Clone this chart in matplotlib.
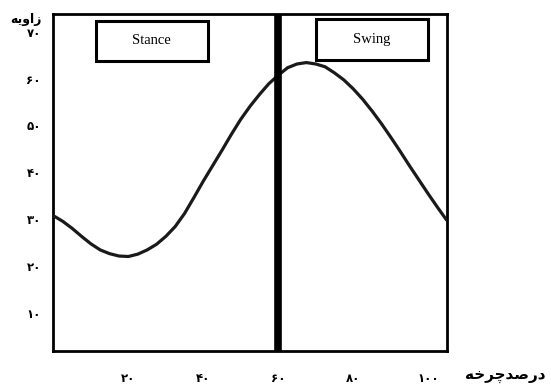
import matplotlib
matplotlib.use("Agg")
import matplotlib.pyplot as plt
from matplotlib.patches import Rectangle

# Gait-cycle joint angle (degrees) versus percent of gait cycle
cycle_pct = [0, 2.5, 5, 7.5, 10, 12.5, 15, 17.5, 20, 22.5, 25, 27.5, 30,
             32.5, 35, 37.5, 40, 42.5, 45, 47.5, 50, 52.5, 55, 57.5, 60,
             62.5, 65, 67.5, 70, 72.5, 75, 77.5, 80, 82.5, 85, 87.5, 90,
             92.5, 95, 97.5, 100, 102.5, 105]
angle_deg = [30.7, 29.5, 28.0, 26.3, 24.7, 23.4, 22.6, 22.1, 22.0, 22.5,
             23.4, 24.6, 26.3, 28.4, 31.2, 34.6, 38.1, 41.4, 44.7, 48.1,
             51.3, 54.1, 56.6, 58.9, 60.7, 62.3, 63.1, 63.4, 63.1, 62.5,
             61.2, 59.7, 57.8, 55.6, 53.1, 50.4, 47.5, 44.5, 41.4, 38.4,
             35.4, 32.5, 29.7]

toe_off_pct = 60
x_ticks = [20, 40, 60, 80, 100]
x_tick_labels = ["۲۰", "۴۰", "۶۰", "۸۰", "۱۰۰"]
y_ticks = [10, 20, 30, 40, 50, 60, 70]
y_tick_labels = ["۱۰", "۲۰", "۳۰", "۴۰", "۵۰", "۶۰", "۷۰"]
phase_labels = ["Stance", "Swing"]

# Persian axis titles, written in joined (presentation) forms in visual order
y_title = "\ufeea\ufbfe\ufeed\ufe8d\ufeaf"                   # زاویه
x_title = "\ufeea\ufea7\ufeae\ufb7c\ufeaa\ufebb\ufead\ufea9"  # درصدچرخه

fig = plt.figure(figsize=(5.51, 3.85), dpi=100)
ax = fig.add_axes([0.097, 0.088, 0.714, 0.876])

ax.plot(cycle_pct, angle_deg, color="#1a1a1a", lw=2.3,
        solid_joinstyle="round", solid_capstyle="butt", zorder=3)
ax.axvline(toe_off_pct, color="black", lw=5.5, zorder=4)

ax.set_xlim(0, 105)
ax.set_ylim(1.8, 73.8)

ax.set_xticks(x_ticks)
ax.set_xticklabels(x_tick_labels, fontsize=8.5, fontweight="bold",
                   family="DejaVu Sans")
ax.set_yticks(y_ticks)
ax.set_yticklabels(y_tick_labels, fontsize=8.5, fontweight="bold",
                   family="DejaVu Sans")
ax.tick_params(axis="x", length=0, pad=15)
ax.tick_params(axis="y", length=0, pad=9)

for side in ax.spines.values():
    side.set_linewidth(2.0)
    side.set_color("black")

# Phase boxes along the top
boxes = [(0.107, 0.861, 0.286, 0.118), (0.667, 0.863, 0.285, 0.122)]
for (bx, by, bw, bh), name in zip(boxes, phase_labels):
    ax.add_patch(Rectangle((bx, by), bw, bh, transform=ax.transAxes,
                           fill=True, facecolor="white", edgecolor="black",
                           lw=2.2, zorder=5))
    ax.text(bx + bw / 2, by + bh / 2, name, transform=ax.transAxes,
            ha="center", va="center", fontsize=10.5,
            family="Liberation Serif", zorder=6)

fig.text(26 / 551, 1 - 19 / 385, y_title, ha="center", va="center",
         fontsize=9, fontweight="bold", family="DejaVu Sans")
fig.text(505 / 551, 1 - 377 / 385, x_title, ha="center", va="center",
         fontsize=11, fontweight="bold", family="DejaVu Sans")

fig.savefig("out.png", dpi=100, facecolor="white")
